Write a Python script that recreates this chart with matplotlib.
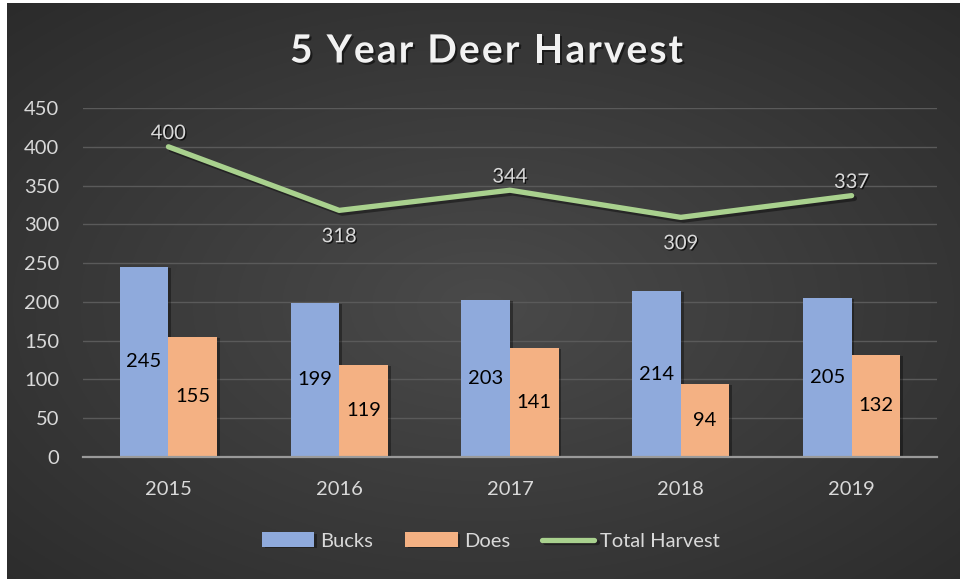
import matplotlib
matplotlib.use('Agg')
import matplotlib.pyplot as plt
import matplotlib.patheffects as pe
import numpy as np

years = ['2015', '2016', '2017', '2018', '2019']
bucks = [245, 199, 203, 214, 205]
does = [155, 119, 141, 94, 132]
total = [400, 318, 344, 309, 337]
# label above (+1) or below (-1) the line point
total_label_side = [1, -1, 1, -1, 1]

blue = '#8FAADC'
orange = '#F4B183'
green = '#A9D18E'
light = '#D9D9D9'

plt.rcParams['font.family'] = ['Lato', 'DejaVu Sans']

fig = plt.figure(figsize=(9.6, 5.79), dpi=100)
fig.patch.set_facecolor('white')

# background: dark radial gradient, leaving a thin white border left/top
bg = fig.add_axes([7 / 960, 0, 953 / 960, 576 / 579])
yy, xx = np.mgrid[-1:1:300j, -1:1:500j]
r = np.sqrt((xx * 0.9) ** 2 + ((yy - 0.05) * 0.9) ** 2)
shade = 0.29 - 0.12 * np.clip(r, 0, 1.3) / 1.3
bg.imshow(np.dstack([shade] * 3), aspect='auto', extent=[0, 1, 0, 1])
bg.set_axis_off()

ax = fig.add_axes([83 / 960, 1 - 457 / 579, 854 / 960, 349 / 579])
ax.set_facecolor('none')

x = np.arange(len(years))
w = 0.285
shadow = [pe.SimplePatchShadow(offset=(2, -1), alpha=0.35, shadow_rgbFace='black'), pe.Normal()]
b1 = ax.bar(x - w / 2, bucks, w, color=blue, label='Bucks', zorder=3, path_effects=shadow)
b2 = ax.bar(x + w / 2, does, w, color=orange, label='Does', zorder=3, path_effects=shadow)

for bars, vals in ((b1, bucks), (b2, does)):
    for rect, v in zip(bars, vals):
        ax.text(rect.get_x() + rect.get_width() / 2, v / 2, str(v), ha='center', va='center',
                fontsize=14.5, color='black', zorder=5)

line_shadow = [pe.SimpleLineShadow(offset=(2, -2), alpha=0.4, shadow_color='black'), pe.Normal()]
ln, = ax.plot(x, total, color=green, linewidth=3.8, solid_capstyle='round', label='Total Harvest',
              zorder=4, path_effects=line_shadow)

text_shadow = [pe.withSimplePatchShadow(offset=(1, -1), alpha=0.7, shadow_rgbFace='black')]
for xi, v, side in zip(x, total, total_label_side):
    dy = 9.5 if side > 0 else -19
    ax.annotate(str(v), (xi, v), xytext=(0, dy), textcoords='offset points', ha='center',
                va='center', fontsize=14.5, color=light, zorder=6, path_effects=text_shadow)

ax.set_xlim(-0.5, 4.5)
ax.set_ylim(0, 450)
ax.set_yticks(np.arange(0, 451, 50))
ax.set_xticks(x)
ax.set_xticklabels(years)
ax.tick_params(axis='both', length=0, labelsize=14.5, labelcolor=light)
ax.tick_params(axis='y', pad=17)
ax.tick_params(axis='x', pad=17)
ax.grid(axis='y', color='#5A5A5A', linewidth=1, zorder=0)
for s in ['top', 'right', 'left']:
    ax.spines[s].set_visible(False)
ax.spines['bottom'].set_color('#9A9A9A')
ax.spines['bottom'].set_linewidth(1.6)
ax.spines['bottom'].set_zorder(5)

# title with wide letter spacing, drawn one character at a time
title = '5 Year Deer Harvest'
title_left, title_right, title_y = 290, 683, 1 - 51 / 579
renderer = fig.canvas.get_renderer()
tkw = dict(fontsize=28, fontweight='bold', color='#F2F2F2', va='center', ha='left',
           path_effects=[pe.withSimplePatchShadow(offset=(1.5, -1.5), alpha=0.5,
                                                  shadow_rgbFace='black')])
chars = []
widths = []
for ch in title:
    t = fig.text(0, title_y, ch if ch != ' ' else 'n', **tkw)
    wpx = t.get_window_extent(renderer).width
    if ch == ' ':
        wpx *= 0.45
        t.remove()
        t = None
    chars.append(t)
    widths.append(wpx)
track = (title_right - title_left - sum(widths)) / (len(title) - 1)
xpos = title_left
for t, wpx in zip(chars, widths):
    if t is not None:
        t.set_x(xpos / 960)
    xpos += wpx + track

leg = fig.legend([b1, b2, ln], ['Bucks', 'Does', 'Total Harvest'], loc='center',
                 bbox_to_anchor=(491 / 960, 1 - 541 / 579), ncol=3,
                 frameon=False, fontsize=14.5, handlelength=2.6, handleheight=0.7,
                 columnspacing=1.6, handletextpad=0.3)
for t in leg.get_texts():
    t.set_color(light)

fig.savefig('out.png', dpi=100, facecolor=fig.get_facecolor())
